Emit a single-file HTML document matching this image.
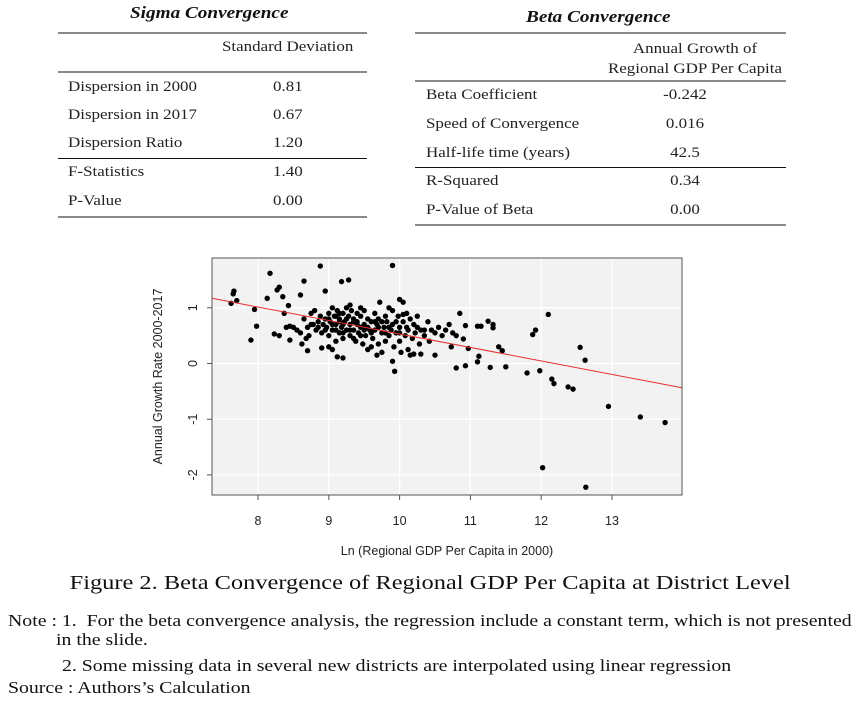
<!DOCTYPE html>
<html><head><meta charset="utf-8">
<style>
body{margin:0;width:862px;height:703px;background:#fff;position:relative;overflow:hidden;font-family:"Liberation Serif",serif;color:#222}
.a{position:absolute;white-space:nowrap}
.s{transform:scaleX(1.13);transform-origin:left top}
.sc{transform:scaleX(1.13);transform-origin:center top}
.t{font-size:15px}
.h{font-weight:bold;font-style:italic;font-size:17px;color:#111}
.rg{position:absolute;height:2px;background:#888}
.rb{position:absolute;height:1px;background:#111}
.c{text-align:center}
.n{font-size:16.5px;color:#111;transform:scaleX(1.2);transform-origin:left top}
</style></head><body>
<div>
<div class="a h s" style="left:130px;top:3px">Sigma Convergence</div>
<div class="rg" style="left:58px;top:32px;width:309px"></div>
<div class="a t s" style="left:222px;top:39px">Standard Deviation</div>
<div class="rg" style="left:58px;top:71px;width:309px"></div>
<div class="a t s" style="left:68px;top:79px">Dispersion in 2000</div><div class="a t s" style="left:273px;top:79px">0.81</div>
<div class="a t s" style="left:68px;top:107px">Dispersion in 2017</div><div class="a t s" style="left:273px;top:107px">0.67</div>
<div class="a t s" style="left:68px;top:135px">Dispersion Ratio</div><div class="a t s" style="left:273px;top:135px">1.20</div>
<div class="rb" style="left:58px;top:158px;width:309px"></div>
<div class="a t s" style="left:68px;top:164px">F-Statistics</div><div class="a t s" style="left:273px;top:164px">1.40</div>
<div class="a t s" style="left:68px;top:193px">P-Value</div><div class="a t s" style="left:273px;top:193px">0.00</div>
<div class="rg" style="left:58px;top:216px;width:309px"></div>
</div>
<div>
<div class="a h s" style="left:526px;top:7px">Beta Convergence</div>
<div class="rg" style="left:415px;top:32px;width:371px"></div>
<div class="a t c sc" style="left:605px;top:39px;width:180px;line-height:20px">Annual Growth of<br>Regional GDP Per Capita</div>
<div class="rg" style="left:415px;top:80px;width:371px"></div>
<div class="a t s" style="left:426px;top:87px">Beta Coefficient</div><div class="a t c sc" style="left:645px;top:87px;width:80px">-0.242</div>
<div class="a t s" style="left:426px;top:116px">Speed of Convergence</div><div class="a t c sc" style="left:645px;top:116px;width:80px">0.016</div>
<div class="a t s" style="left:426px;top:145px">Half-life time (years)</div><div class="a t c sc" style="left:645px;top:145px;width:80px">42.5</div>
<div class="rb" style="left:415px;top:167px;width:371px"></div>
<div class="a t s" style="left:426px;top:173px">R-Squared</div><div class="a t c sc" style="left:645px;top:173px;width:80px">0.34</div>
<div class="a t s" style="left:426px;top:202px">P-Value of Beta</div><div class="a t c sc" style="left:645px;top:202px;width:80px">0.00</div>
<div class="rg" style="left:415px;top:224px;width:371px"></div>
</div>

<svg class="a" style="left:0;top:0" width="862" height="703" id="chart" font-family="Liberation Sans, Arial, sans-serif"></svg>

<div class="a c" style="left:0;width:862px;top:572px;font-size:20px;color:#111;transform:scaleX(1.22);transform-origin:435px 0">Figure 2. Beta Convergence of Regional GDP Per Capita at District Level</div>
<div class="a n" style="left:8px;top:611px">Note : 1.&nbsp; For the beta convergence analysis, the regression include a constant term, which is not presented</div>
<div class="a n" style="left:56px;top:630px">in the slide.</div>
<div class="a n" style="left:62px;top:656px">2. Some missing data in several new districts are interpolated using linear regression</div>
<div class="a n" style="left:8px;top:678px">Source : Authors’s Calculation</div>

<script>
const xTicks=[8,9,10,11,12,13];
const yTicks=[-2,-1,0,1];
const lineIntercept=2.95;
const lineSlope=-0.242;
const xValues=[7.62,7.65,7.66,7.7,7.9,7.95,7.98,8.13,8.17,8.23,8.27,8.3,8.3,8.35,8.37,8.43,8.45,8.6,8.65,8.7,8.88,8.9,8.95,9.18,9.28,9.2,9.12,9.9,9.9,9.93,10.0,10.05,10.5,10.73,10.8,10.8,10.85,10.9,10.93,10.93,10.97,11.1,11.12,11.1,11.15,11.25,11.28,11.32,11.32,11.4,11.45,11.5,11.8,11.88,11.92,11.98,12.02,12.1,12.15,12.18,12.38,12.45,12.55,12.62,12.63,12.95,13.4,13.75,
8.6,8.65,8.7,8.72,8.75,8.78,8.8,8.82,8.85,8.88,8.9,8.92,8.95,8.97,9.0,9.0,9.02,9.05,9.05,9.08,9.1,9.1,9.12,9.15,9.15,9.18,9.2,9.2,9.22,9.25,9.25,9.28,9.3,9.3,9.32,9.35,9.35,9.38,9.4,9.4,9.42,9.45,9.45,9.48,9.5,9.5,9.52,9.55,9.58,9.6,9.62,9.65,9.65,9.68,9.7,9.7,9.72,9.75,9.78,9.8,9.8,9.82,9.85,9.85,9.88,9.9,9.92,9.95,9.98,10.0,10.0,10.02,10.05,10.08,10.1,10.12,10.15,10.15,10.18,10.2,10.22,10.25,10.28,10.3,10.3,10.35,10.4,10.42,10.45,10.5,10.55,10.6,10.65,10.7,10.75,8.5,8.55,8.4,8.45,8.62,8.68,9.0,9.05,9.3,9.45,9.6,9.68,9.75,9.9,9.95,10.05,10.12,10.2,9.55,9.1,9.2,9.3,9.4,9.25,9.15,9.35,9.05,8.95,9.55,9.75,9.85,9.65,9.5,9.0,9.15,9.45,9.6,9.2,9.35,9.1,8.85,8.75,9.8,10.0,10.1,10.25,10.35,9.7];
const yValues=[1.08,1.25,1.3,1.13,0.42,0.97,0.67,1.17,1.62,0.53,1.32,1.37,0.5,1.2,0.9,1.04,0.42,1.23,1.48,0.23,1.75,0.28,1.3,1.47,1.5,0.1,0.12,1.76,0.04,-0.14,1.15,1.1,0.15,0.3,-0.08,0.5,0.9,0.44,0.68,-0.04,0.27,0.67,0.13,0.03,0.67,0.76,-0.07,0.7,0.64,0.3,0.23,-0.06,-0.17,0.52,0.6,-0.13,-1.87,0.88,-0.28,-0.36,-0.42,-0.46,0.29,0.06,-2.22,-0.77,-0.96,-1.06,
0.55,0.8,0.65,0.5,0.9,0.7,0.95,0.6,0.75,0.85,0.55,0.7,0.8,0.65,0.9,0.5,0.75,1.0,0.6,0.85,0.7,0.4,0.95,0.55,0.8,0.65,0.9,0.45,0.75,0.6,1.0,0.85,0.7,0.5,0.95,0.8,0.6,0.4,0.75,0.9,0.55,0.85,0.65,0.35,0.7,0.95,0.5,0.8,0.6,0.75,0.45,0.9,0.6,0.7,0.8,0.35,1.1,0.55,0.65,0.85,0.4,0.75,1.0,0.5,0.6,0.7,0.3,0.55,0.85,0.65,0.4,0.2,0.75,0.5,0.9,0.6,0.15,0.8,0.45,0.7,0.55,0.85,0.35,0.6,0.17,0.5,0.75,0.4,0.6,0.55,0.65,0.5,0.6,0.7,0.55,0.65,0.6,0.65,0.67,0.35,0.45,0.3,0.25,1.05,1.0,0.3,0.15,0.2,0.95,0.75,0.88,0.25,0.17,0.25,0.6,0.7,0.6,0.7,0.8,0.75,0.75,0.7,0.6,0.65,0.75,0.65,0.75,0.6,0.8,0.9,0.5,0.55,0.55,0.45,0.85,0.65,0.7,0.55,0.55,0.65,0.65,0.6,0.65];

const NS='http://www.w3.org/2000/svg';
const svg=document.getElementById('chart');
const L=212,R=682,T=258,B=495;
const X8=258,PXX=70.8,Y0=363.5,PXY=55.7;
const sx=v=>X8+(v-8)*PXX;
const sy=v=>Y0-v*PXY;
const xMin=(L-X8)/PXX+8, xMax=(R-X8)/PXX+8;
function mk(tag,attrs){const e=document.createElementNS(NS,tag);for(const k in attrs)e.setAttribute(k,attrs[k]);svg.appendChild(e);return e;}
let e=mk('rect',{x:L,y:T,width:R-L,height:B-T,fill:'#f2f2f2'});


xTicks.forEach(v=>{
  let g=mk('line',{x1:sx(v),x2:sx(v),y1:T,y2:B,stroke:'#fff','stroke-width':1.3});
  
  
  let tk=mk('line',{x1:sx(v),x2:sx(v),y1:B,y2:B+5,stroke:'#555'});
  
  
  let t=mk('text',{x:sx(v),y:B+30,'font-size':12.5,'text-anchor':'middle',fill:'#222'});
  t.textContent=v;
  
  
});
yTicks.forEach(v=>{
  let g=mk('line',{x1:L,x2:R,y1:sy(v),y2:sy(v),stroke:'#fff','stroke-width':1.3});
  
  
  let tk=mk('line',{x1:L-5,x2:L,y1:sy(v),y2:sy(v),stroke:'#555'});
  
  
  let t=mk('text',{x:0,y:0,'font-size':12.5,'text-anchor':'middle',fill:'#222',transform:`translate(${L-15},${sy(v)}) rotate(-90)`});
  t.textContent=v;
  
  
});
e=mk('rect',{x:L,y:T,width:R-L,height:B-T,fill:'none',stroke:'#555','stroke-width':1});


xValues.forEach((x,i)=>{
  let c=mk('circle',{cx:sx(x),cy:sy(yValues[i]),r:2.7,fill:'#000'});
  
  
});
e=mk('line',{x1:L,y1:sy(lineIntercept+lineSlope*xMin),x2:R,y2:sy(lineIntercept+lineSlope*xMax),stroke:'#e83030','stroke-width':1});


e=mk('text',{x:447,y:555,'font-size':12.5,'text-anchor':'middle',fill:'#222'});
e.textContent='Ln (Regional GDP Per Capita in 2000)';


e=mk('text',{x:0,y:0,'font-size':12.5,'text-anchor':'middle',fill:'#222',transform:`translate(162,${(T+B)/2}) rotate(-90)`});
e.textContent='Annual Growth Rate 2000-2017';


</script>
</body></html>
